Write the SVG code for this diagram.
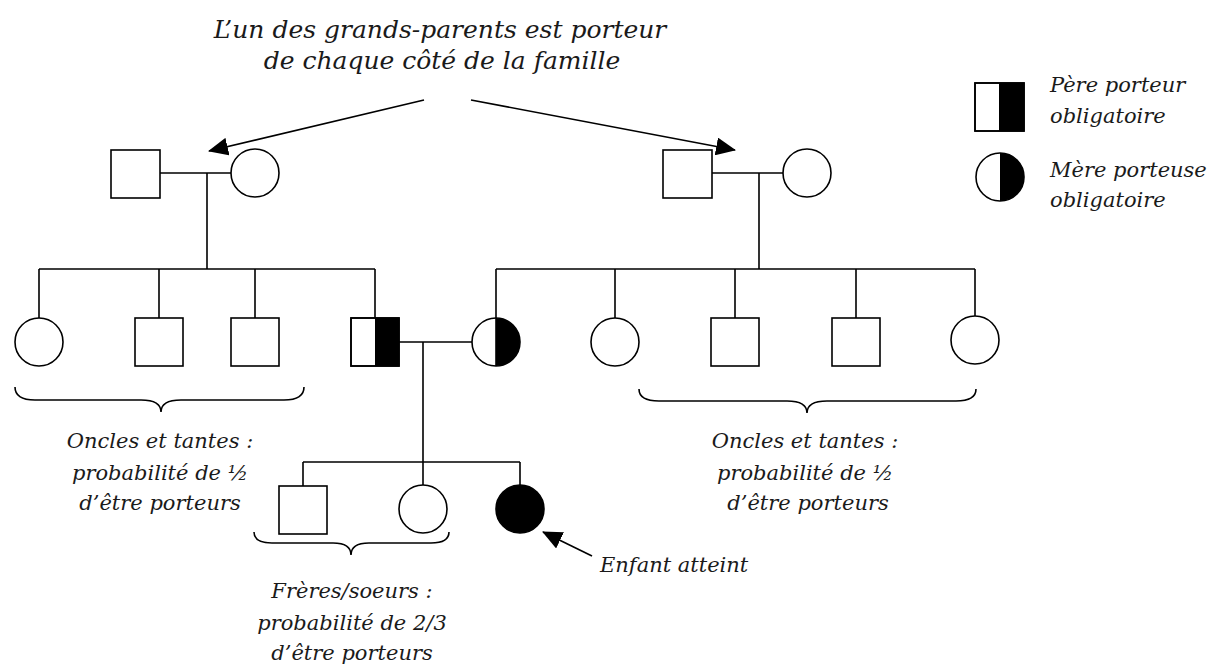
<svg xmlns="http://www.w3.org/2000/svg" width="1212" height="666" viewBox="0 0 1212 666">
<style>
.s{fill:#fff;stroke:#000;stroke-width:1.6}
.k{fill:#000;stroke:none}
.l{fill:none;stroke:#000;stroke-width:1.6}
.t{font-family:"DejaVu Serif","Liberation Serif",serif;font-style:italic;font-size:21px;fill:#1a1a1a}
.big{font-size:25px}
.m{text-anchor:middle}
</style>
<defs>
<marker id="ah" viewBox="0 0 20 18" refX="19" refY="9" markerWidth="20" markerHeight="18" markerUnits="userSpaceOnUse" orient="auto">
<path d="M0,0 L20,9 L0,18 Z" fill="#000"/>
</marker>
</defs>
<rect width="1212" height="666" fill="#fff"/>
<g id="connectors">
<path class="l" d="M160,173 H231 M207,173 V269 M39,269 H375 M39,269 V318 M159,269 V318 M255,269 V318 M375,269 V318"/>
<path class="l" d="M712,173 H783 M759,173 V269 M496,269 H975 M496,269 V318 M615,269 V318 M735,269 V318 M856,269 V318 M975,269 V316"/>
<path class="l" d="M399,342 H472 M423,342 V485 M303,462 H520 M303,462 V486 M520,462 V485"/>
<line class="l" x1="424" y1="100" x2="209" y2="151" marker-end="url(#ah)"/>
<line class="l" x1="471" y1="100" x2="735" y2="150" marker-end="url(#ah)"/>
<line class="l" x1="592" y1="556" x2="543" y2="532" marker-end="url(#ah)"/>
<path class="l" d="M15,387 C15,396 22,400 35,400 L141,400 C154,400 161,404 161,412 C161,404 168,400 181,400 L284,400 C297,400 304,396 304,387"/>
<path class="l" d="M639,389 C639,397 646,401 659,401 L787,401 C800,401 807,405 807,413 C807,405 814,401 827,401 L956,401 C969,401 976,397 976,389"/>
<path class="l" d="M254,532 C254,539 260,543 272,543 L333,543 C345,543 351,547 351,555 C351,547 357,543 369,543 L431,543 C443,543 449,539 449,532"/>
</g>
<g id="gp-left-father"><rect class="s" x="111" y="150" width="49" height="48"/></g>
<g id="gp-left-mother"><circle class="s" cx="255" cy="173" r="24"/></g>
<g id="gp-right-father"><rect class="s" x="663" y="150" width="49" height="48"/></g>
<g id="gp-right-mother"><circle class="s" cx="807" cy="173" r="24"/></g>
<g id="aunt-l1"><circle class="s" cx="39" cy="342" r="24"/></g>
<g id="uncle-l2"><rect class="s" x="135" y="318" width="48" height="48"/></g>
<g id="uncle-l3"><rect class="s" x="231" y="318" width="48" height="48"/></g>
<g id="father"><rect class="s" x="351" y="318" width="48" height="48"/><rect class="k" x="375" y="318" width="24" height="48"/><rect class="l" x="351" y="318" width="48" height="48"/></g>
<g id="mother"><circle class="s" cx="496" cy="342" r="24"/><path class="k" d="M496,318 A24,24 0 0 1 496,366 Z"/><line class="l" x1="496" y1="318" x2="496" y2="366"/></g>
<g id="aunt-r1"><circle class="s" cx="615" cy="342" r="24"/></g>
<g id="uncle-r2"><rect class="s" x="711" y="318" width="48" height="48"/></g>
<g id="uncle-r3"><rect class="s" x="832" y="318" width="48" height="48"/></g>
<g id="aunt-r4"><circle class="s" cx="975" cy="340" r="24"/></g>
<g id="brother"><rect class="s" x="279" y="486" width="48" height="48"/></g>
<g id="sister"><circle class="s" cx="423" cy="509" r="24"/></g>
<g id="affected"><circle cx="520" cy="509" r="24" fill="#000" stroke="#000" stroke-width="1.6"/></g>
<g id="legend">
<rect class="s" x="975" y="83" width="49" height="48"/><rect class="k" x="999" y="83" width="25" height="48"/><rect class="l" x="975" y="83" width="49" height="48"/>
<circle class="s" cx="1000" cy="177" r="24"/><path class="k" d="M1000,153 A24,24 0 0 1 1000,201 Z"/>
<text class="t" x="1050" y="92">Père porteur</text>
<text class="t" x="1050" y="123">obligatoire</text>
<text class="t" x="1050" y="177">Mère porteuse</text>
<text class="t" x="1050" y="207">obligatoire</text>
</g>
<g id="labels">
<text class="t big m" x="440" y="38">L’un des grands-parents est porteur</text>
<text class="t big m" x="442" y="69">de chaque côté de la famille</text>
<text class="t m" x="160" y="448">Oncles et tantes :</text>
<text class="t m" x="160" y="480">probabilité de ½</text>
<text class="t m" x="160" y="510">d’être porteurs</text>
<text class="t m" x="805" y="448">Oncles et tantes :</text>
<text class="t m" x="805" y="480">probabilité de ½</text>
<text class="t m" x="808" y="510">d’être porteurs</text>
<text class="t m" x="352" y="598">Frères/soeurs :</text>
<text class="t m" x="352" y="630">probabilité de 2/3</text>
<text class="t m" x="352" y="660">d’être porteurs</text>
<text class="t" x="600" y="572">Enfant atteint</text>
</g>
</svg>
